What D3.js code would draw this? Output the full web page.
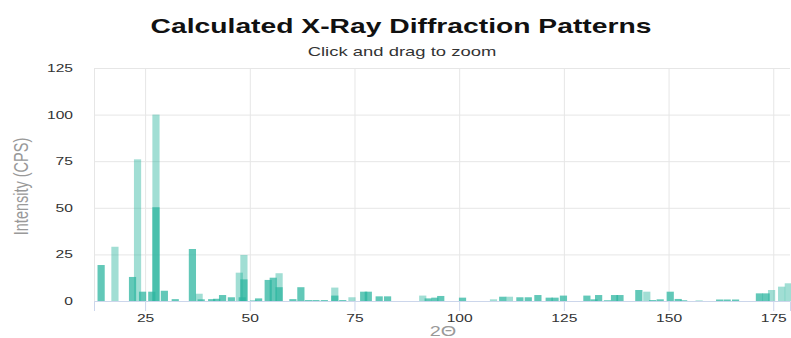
<!DOCTYPE html>
<html>
<head>
<meta charset="utf-8">
<script src="https://cdn.jsdelivr.net/npm/d3@7"></script>
<style>
  body { margin: 0; background: #fff; }
  svg { font-family: "Liberation Sans", Arial, sans-serif; display: block; }
</style>
</head>
<body>
<div id="chart"></div>
<script>
// page set up
const FRAME_WIDTH = 791;
const FRAME_HEIGHT = 338;
const MARGINS = {left: 94, right: 1, top: 68, bottom: 37};

const VIS_WIDTH = FRAME_WIDTH - MARGINS.left - MARGINS.right;
const VIS_HEIGHT = FRAME_HEIGHT - MARGINS.top - MARGINS.bottom;

// the whole reference is stretched sideways, so text gets widened too
const STRETCH = 1.42;

// data: [2theta, intensity]
const PHASE_DARK = [
  [14.5, 19.3], [22.0, 12.9], [24.4, 5], [26.6, 5], [27.6, 50.3], [29.6, 5.5],
  [32.2, 1], [36.3, 27.9], [38.4, 0.9], [40.9, 1], [42.1, 1.2], [43.5, 3.2],
  [45.6, 2], [48.2, 2], [48.6, 11.6], [50.9, 0.3], [52.1, 1.4], [54.4, 11.3],
  [55.6, 12.5], [57.0, 7.4], [60.3, 1], [62.2, 7.4], [64.0, 0.5], [65.8, 0.5],
  [67.8, 0.5], [70.3, 2.9], [72.2, 0.5], [77.2, 5], [78.3, 5], [80.9, 2.5],
  [82.9, 2.5], [92.6, 1.4], [94.2, 1.8], [95.6, 2.7], [100.8, 1.8],
  [110.4, 2.3], [114.5, 2], [116.5, 2], [118.8, 3.2], [121.5, 1.8],
  [122.9, 1.8], [124.9, 2.9], [130.5, 2.9], [132.2, 0.9], [133.3, 3.2],
  [135.4, 0.4], [137.1, 3.2], [138.4, 3.2], [142.9, 5.9], [146.2, 0.5],
  [148.0, 0.9], [150.4, 5], [152.3, 1.1], [153.6, 0.4], [157.3, 0.2],
  [162.2, 0.8], [164.0, 0.8], [166.0, 0.8], [171.7, 4.1], [173.3, 4.1]
];

const PHASE_LIGHT = [
  [17.8, 29.1], [23.2, 76], [27.6, 100], [37.9, 3.9], [47.5, 15.2],
  [48.6, 24.7], [57.0, 14.9], [70.3, 7.2], [74.4, 2], [91.3, 2.9],
  [108.2, 0.9], [112.0, 2.3], [144.8, 5], [174.6, 5.9], [177.0, 7.7],
  [178.6, 9.5]
];

const X_TICKS = [25, 50, 75, 100, 125, 150, 175];
const Y_TICKS = [0, 25, 50, 75, 100, 125];

const BASE_COLOR = "rgb(46,182,160)";

const FRAME = d3.select("#chart")
  .append("svg")
  .attr("width", FRAME_WIDTH)
  .attr("height", FRAME_HEIGHT);

// scales
const X_SCALE = d3.scaleLinear()
  .domain([12.8, 179])
  .range([0, VIS_WIDTH]);

const Y_SCALE = d3.scaleLinear()
  .domain([0, 125])
  .range([VIS_HEIGHT, 0]);

const BAR_W = X_SCALE(1.72) - X_SCALE(0);

const G = FRAME.append("g")
  .attr("transform", "translate(" + MARGINS.left + "," + MARGINS.top + ")");

// horizontal grid
G.append("g")
  .call(d3.axisLeft(Y_SCALE).tickValues(Y_TICKS).tickSize(-VIS_WIDTH).tickFormat(""))
  .call(g => g.select(".domain").remove())
  .call(g => g.selectAll("line").attr("stroke", "#e6e6e6"));

// vertical grid
G.append("g")
  .call(d3.axisBottom(X_SCALE).tickValues(X_TICKS).tickSize(VIS_HEIGHT).tickFormat(""))
  .call(g => g.select(".domain").remove())
  .call(g => g.selectAll("line").attr("stroke", "#e6e6e6"));

// left border
G.append("line")
  .attr("x1", 0.5).attr("x2", 0.5)
  .attr("y1", 0).attr("y2", VIS_HEIGHT)
  .attr("stroke", "#e6e6e6");

// bars
function drawBars(data, opacity, cls) {
  G.selectAll("." + cls)
    .data(data)
    .enter()
    .append("rect")
    .attr("class", cls)
    .attr("x", (d) => { return X_SCALE(d[0]) - BAR_W / 2; })
    .attr("y", (d) => { return Y_SCALE(d[1]); })
    .attr("width", BAR_W)
    .attr("height", (d) => { return VIS_HEIGHT - Y_SCALE(d[1]); })
    .attr("fill", BASE_COLOR)
    .attr("fill-opacity", opacity);
}

drawBars(PHASE_LIGHT, 0.45, "light");
drawBars(PHASE_DARK, 0.75, "dark");

// x axis
const X_AXIS = G.append("g")
  .attr("transform", "translate(0," + VIS_HEIGHT + ")")
  .call(d3.axisBottom(X_SCALE).tickValues(X_TICKS).tickSize(10).tickPadding(3));
X_AXIS.select(".domain").attr("stroke", "#ccd6eb");
X_AXIS.selectAll("line").attr("stroke", "#ccd6eb");
X_AXIS.selectAll("text")
  .attr("font-size", "11px").attr("fill", "#333")
  .attr("font-family", "Liberation Sans, Arial, sans-serif")
  .attr("transform", "scale(" + STRETCH + ",1)");

// y axis labels
const Y_AXIS = G.append("g")
  .call(d3.axisLeft(Y_SCALE).tickValues(Y_TICKS).tickSize(0));
Y_AXIS.select(".domain").remove();
Y_AXIS.selectAll("text")
  .attr("x", 0)
  .attr("font-size", "11px").attr("fill", "#333")
  .attr("font-family", "Liberation Sans, Arial, sans-serif")
  .attr("transform", "translate(-21,0) scale(" + STRETCH + ",1)");

// titles
FRAME.append("text")
  .attr("transform", "translate(401,33) scale(1.45,1)")
  .attr("text-anchor", "middle")
  .attr("font-size", "19.5px").attr("font-weight", "bold").attr("fill", "#111")
  .text("Calculated X-Ray Diffraction Patterns");

FRAME.append("text")
  .attr("transform", "translate(402,56) scale(" + STRETCH + ",1)")
  .attr("text-anchor", "middle")
  .attr("font-size", "13px").attr("fill", "#333")
  .text("Click and drag to zoom");

FRAME.append("text")
  .attr("transform", "translate(27.5,186.5) scale(" + STRETCH + ",1) rotate(-90)")
  .attr("text-anchor", "middle")
  .attr("font-size", "14.5px").attr("fill", "#999")
  .text("Intensity (CPS)");

FRAME.append("text")
  .attr("transform", "translate(443,336) scale(" + STRETCH + ",1)")
  .attr("text-anchor", "middle")
  .attr("font-size", "14px").attr("fill", "#999")
  .text("2Θ");
</script>
</body>
</html>
